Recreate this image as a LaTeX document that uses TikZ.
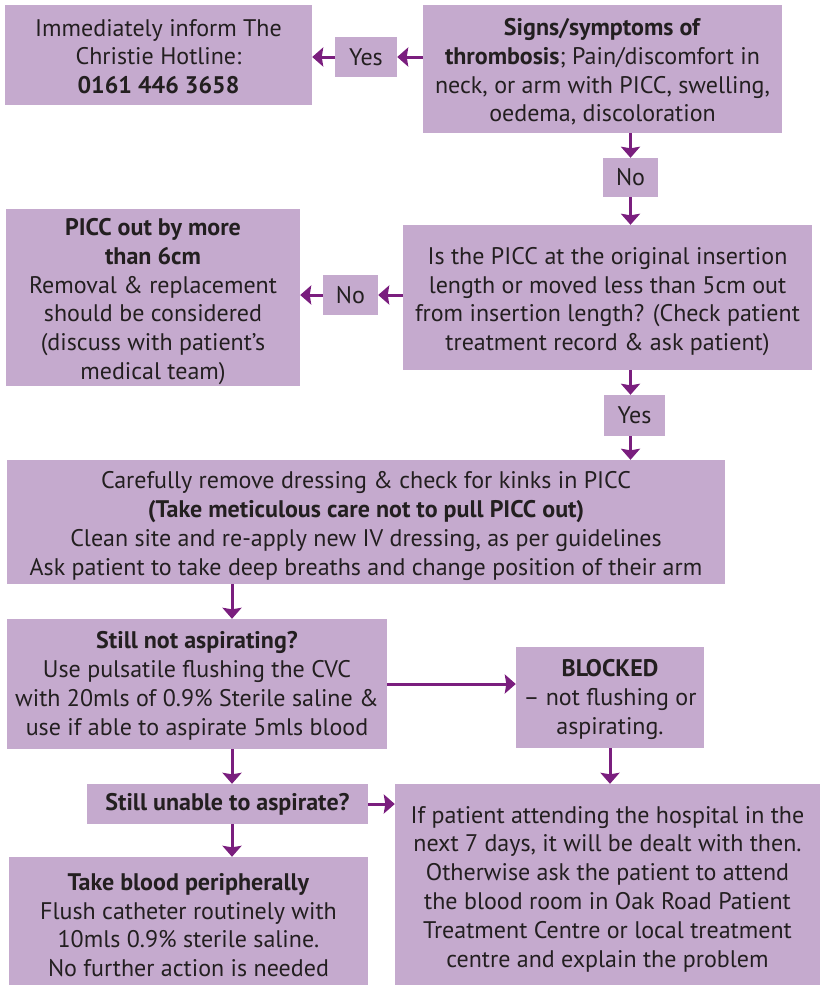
\documentclass[tikz,border=0pt]{standalone}
\usepackage{fontspec}
\setmainfont{PT Sans}
\usetikzlibrary{arrows.meta,calc}
\definecolor{boxfill}{HTML}{C5AACE}
\definecolor{arrowc}{HTML}{7A1E7E}
\definecolor{txt}{HTML}{231F20}
\tikzset{
  fbox/.style={fill=boxfill, draw=none, inner sep=0pt, align=center, text=txt,
    font=\fontsize{24}{28.8}\selectfont},
  ftxt/.style={inner sep=0pt, align=center, text=txt,
    font=\fontsize{24}{28.8}\selectfont},
  arr/.style={draw=arrowc, line width=3pt, -{Stealth[length=11pt,width=19pt,inset=1.5pt]}},
}
\begin{document}
\begin{tikzpicture}[x=1pt,y=-1pt]
\useasboundingbox[fill=white] (0,0) rectangle (828,985);
% boxes
\node[fbox, minimum width=307, minimum height=100] (inform) at (158.5,55) {};
\node[fbox, minimum width=62, minimum height=40] (yes1) at (366,57) {Yes};
\node[fbox, minimum width=359, minimum height=128] (signs) at (602.5,69) {};
\node[fbox, minimum width=55, minimum height=39] (no1) at (630.5,177.5) {No};
\node[fbox, minimum width=294, minimum height=177] (out) at (153,297.5) {};
\node[fbox, minimum width=55, minimum height=40] (no2) at (350.5,295) {No};
\node[fbox, minimum width=409, minimum height=145] (ispicc) at (607.5,297.5) {};
\node[fbox, minimum width=61, minimum height=41] (yes2) at (634.5,415.5) {Yes};
\node[fbox, minimum width=718, minimum height=124] (careful) at (366,522) {};
\node[fbox, minimum width=380, minimum height=130] (notasp) at (197,684) {};
\node[fbox, minimum width=188, minimum height=101] (blocked) at (610,697.5) {};
\node[fbox, minimum width=281, minimum height=40] (unable) at (227.5,804)
  {\textbf{Still unable to aspirate?}};
\node[fbox, minimum width=425, minimum height=201] (ifpat) at (607.5,884.5) {};
\node[fbox, minimum width=359, minimum height=128] (blood) at (188.5,921) {};
% texts
\node[ftxt] (t-inform) at ([yshift=-1.5pt]inform.center)
  {Immediately inform The\\ Christie Hotline:\\ \textbf{0161 446 3658}};
\node[ftxt] (t-signs) at ([yshift=-3pt]signs.center)
  {\textbf{Signs/symptoms of}\\ \textbf{thrombosis}; Pain/discomfort in\\ neck, or arm with PICC, swelling,\\ oedema, discoloration};
\node[ftxt] (t-out) at ([yshift=-4pt]out.center)
  {\textbf{PICC out by more}\\ \textbf{than 6cm}\\ Removal \& replacement\\ should be considered\\ (discuss with patient’s\\ medical team)};
\node[ftxt] (t-ispicc) at ([yshift=-4pt]ispicc.center)
  {Is the PICC at the original insertion\\ length or moved less than 5cm out\\ from insertion length? (Check patient\\ treatment record \& ask patient)};
\node[ftxt] (t-careful) at ([yshift=-4pt]careful.center)
  {Carefully remove dressing \& check for kinks in PICC\\ \textbf{(Take meticulous care not to pull PICC out)}\\ Clean site and re-apply new IV dressing, as per guidelines\\ Ask patient to take deep breaths and change position of their arm};
\node[ftxt] (t-notasp) at ([yshift=-2pt]notasp.center)
  {\textbf{Still not aspirating?}\\ Use pulsatile flushing the CVC\\ with 20mls of 0.9\% Sterile saline \&\\ use if able to aspirate 5mls blood};
\node[ftxt] (t-blocked) at ([yshift=-2pt]blocked.center)
  {\textbf{BLOCKED}\\ – not flushing or\\ aspirating.};
\node[ftxt] (t-ifpat) at ([yshift=-4.5pt]ifpat.center)
  {If patient attending the hospital in the\\ next 7 days, it will be dealt with then.\\ Otherwise ask the patient to attend\\ the blood room in Oak Road Patient\\ Treatment Centre or local treatment\\ centre and explain the problem};
\node[ftxt] (t-blood) at ([yshift=-4pt]blood.center)
  {\textbf{Take blood peripherally}\\ Flush catheter routinely with\\ 10mls 0.9\% sterile saline.\\ No further action is needed};

\draw[arr] (signs.west |- yes1.east) -- (yes1.east);
\draw[arr] (yes1.west) -- (inform.east |- yes1.west);
\draw[arr] (signs.south -| no1.north) -- (no1.north);
\draw[arr] (no1.south) -- (ispicc.north -| no1.south);
\draw[arr] (ispicc.west |- no2.east) -- (no2.east);
\draw[arr] (no2.west) -- (out.east |- no2.west);
\draw[arr] (ispicc.south -| no1.south) -- (yes2.north -| no1.south);
\draw[arr] (yes2.south -| no1.south) -- (careful.north -| no1.south);
\draw[arr] ([xshift=4.5pt]careful.south -| unable.north) -- ([xshift=4.5pt]notasp.north -| unable.north);
\draw[arr] (notasp.east) -- (blocked.west |- notasp.east);
\draw[arr] ([xshift=4.5pt]notasp.south -| unable.north) -- ([xshift=4.5pt]unable.north);
\draw[arr] (unable.east) -- (ifpat.west |- unable.east);
\draw[arr] ([xshift=4.5pt]unable.south) -- ([xshift=4.5pt]blood.north -| unable.south);
\draw[arr] (blocked.south) -- (ifpat.north -| blocked.south);
\end{tikzpicture}
\end{document}
